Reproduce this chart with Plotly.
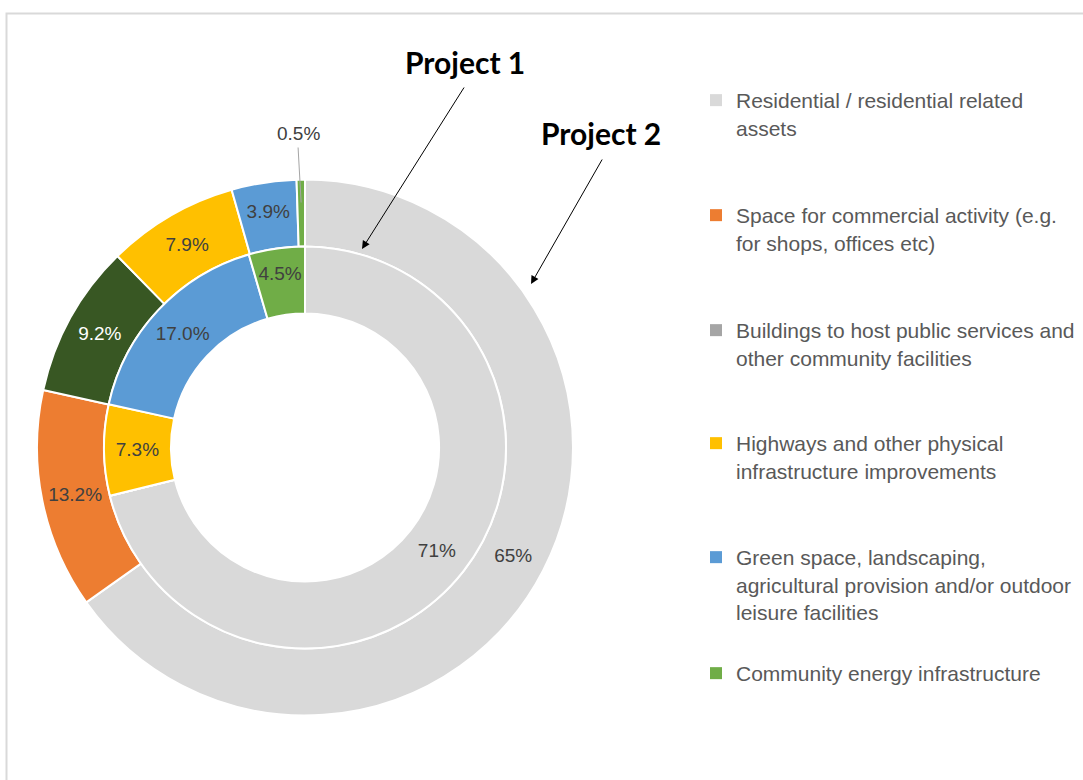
import math
import plotly.graph_objects as go

# categories in legend order (legend text keeps the reference line breaks)
categories = [
    "Residential / residential related<br>assets",
    "Space for commercial activity (e.g.<br>for shops, offices etc)",
    "Buildings to host public services and<br>other community facilities",
    "Highways and other physical<br>infrastructure improvements",
    "Green space, landscaping,<br>agricultural provision and/or outdoor<br>leisure facilities",
    "Community energy infrastructure",
]
project1 = [71, 0, 0, 7.3, 17.0, 4.5]      # inner ring
project2 = [65, 13.2, 9.2, 7.9, 3.9, 0.5]  # outer ring

legend_colors = ["#d9d9d9", "#ed7d31", "#a5a5a5", "#ffc000", "#5b9bd5", "#70ad47"]
outer_colors  = ["#d9d9d9", "#ed7d31", "#385723", "#ffc000", "#5b9bd5", "#70ad47"]


def pct(v):
    return f"{v:.0f}%" if v >= 50 else f"{v:.1f}%"


W, H = 1083, 780
FONT = "Liberation Sans, Arial, sans-serif"
BOLD = "Lato, sans-serif"

# outer ring: 0.5% slice is labelled outside with a leader line
outer_text = [pct(v) for v in project2]
outer_text[-1] = ""
outer_font = ["#404040"] * 6
outer_font[2] = "#ffffff"

fig = go.Figure()

fig.add_trace(go.Pie(
    labels=categories, values=project2, text=outer_text, textinfo="text",
    sort=False, direction="clockwise", rotation=0, hole=0.75,
    marker=dict(colors=outer_colors, line=dict(color="white", width=2)),
    textfont=dict(family=FONT, size=19, color=outer_font),
    insidetextorientation="horizontal", textposition="inside",
    domain=dict(x=[37 / W, 573 / W], y=[64.5 / H, 600.5 / H]),
    showlegend=False, hoverinfo="label+value", automargin=False,
))

fig.add_trace(go.Pie(
    labels=categories, values=project1, text=[pct(v) for v in project1],
    textinfo="text", sort=False, direction="clockwise", rotation=0, hole=0.667,
    marker=dict(colors=legend_colors, line=dict(color="white", width=2)),
    textfont=dict(family=FONT, size=19, color="#404040"),
    insidetextorientation="horizontal", textposition="inside",
    domain=dict(x=[104 / W, 506 / W], y=[131.5 / H, 533.5 / H]),
    showlegend=False, hoverinfo="label+value", automargin=False,
))

# one legend per category so the entries sit at even steps like the original
legend_tops = [80, 195, 310, 423, 537, 653]
legends = {}
for i, (name, col) in enumerate(zip(categories, legend_colors)):
    key = "legend" if i == 0 else f"legend{i + 1}"
    fig.add_trace(go.Scatter(
        x=[None], y=[None], mode="markers", name=name,
        marker=dict(symbol="square", size=8, color=col),
        legend=key, showlegend=True,
    ))
    legends[key] = dict(
        x=696 / W, y=1 - legend_tops[i] / H, xanchor="left", yanchor="top",
        font=dict(family=FONT, size=21, color="#595959"),
        bgcolor="rgba(0,0,0,0)", valign="top", itemsizing="constant",
    )

# 0.5% label with leader line, head placed from the slice angle
cum = sum(project2[:-1]) + project2[-1] / 2
ang = math.radians(cum / sum(project2) * 360)
cx, cy, r_mid = 305, 447.5, 245
hx = cx + r_mid * math.sin(ang)
hy = cy - r_mid * math.cos(ang)

annotations = [
    dict(x=hx / W, y=1 - hy / H, xref="paper", yref="paper", text="",
         showarrow=True, arrowhead=0, arrowwidth=1, arrowcolor="#a5a5a5",
         ax=298 - hx, ay=146 - hy),
    dict(x=298 / W, y=1 - 133 / H, xref="paper", yref="paper",
         xanchor="center", yanchor="middle",
         text=pct(project2[-1]), showarrow=False,
         font=dict(family=FONT, size=19, color="#404040")),
    dict(x=465 / W, y=1 - 62 / H, xref="paper", yref="paper",
         xanchor="center", yanchor="middle",
         text="<b>Project 1</b>", showarrow=False,
         font=dict(family=BOLD, size=30, color="#000000")),
    dict(x=601 / W, y=1 - 133 / H, xref="paper", yref="paper",
         xanchor="center", yanchor="middle",
         text="<b>Project 2</b>", showarrow=False,
         font=dict(family=BOLD, size=30, color="#000000")),
    dict(x=362 / W, y=1 - 249 / H, xref="paper", yref="paper", text="",
         showarrow=True, arrowhead=2, arrowsize=1.6, arrowwidth=1,
         arrowcolor="#000000", ax=103, ay=-163),
    dict(x=531 / W, y=1 - 284 / H, xref="paper", yref="paper", text="",
         showarrow=True, arrowhead=2, arrowsize=1.6, arrowwidth=1,
         arrowcolor="#000000", ax=72, ay=-126),
]

fig.update_layout(
    width=W, height=H, margin=dict(l=0, r=0, t=0, b=0),
    paper_bgcolor="white", plot_bgcolor="white",
    xaxis=dict(visible=False), yaxis=dict(visible=False),
    annotations=annotations,
    shapes=[dict(type="rect", xref="paper", yref="paper",
                 x0=6.5 / W, x1=1.01, y0=-0.01, y1=1 - 13.5 / H,
                 line=dict(color="#d9d9d9", width=2))],
    **legends,
)

# drop the default 8px body margin so the figure fills the window exactly
fig.write_html("out.html", config={"displayModeBar": False},
               post_script="document.body.style.margin='0';")
